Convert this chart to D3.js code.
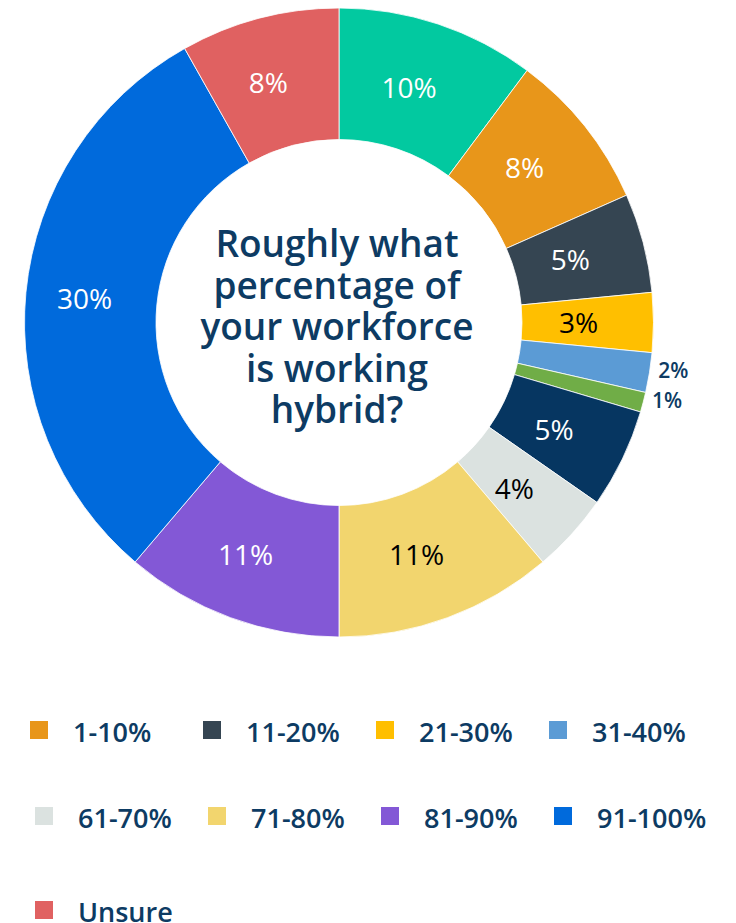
<!DOCTYPE html>
<html>
<head>
<meta charset="utf-8">
<script src="https://cdn.jsdelivr.net/npm/d3@7/dist/d3.min.js"></script>
<style>
  html, body { margin: 0; padding: 0; background: #ffffff; overflow: hidden; }
  svg { display: block; font-family: "Open Sans", "Noto Sans", sans-serif; }
</style>
</head>
<body>
<svg id="chart" width="736" height="923"></svg>
<script>
// Share of respondents by how much of their workforce works hybrid
const categories = ["0%", "1-10%", "11-20%", "21-30%", "31-40%", "41-50%",
                    "51-60%", "61-70%", "71-80%", "81-90%", "91-100%", "Unsure"];
const values = [10, 8, 5, 3, 2, 1, 5, 4, 11, 11, 30, 8];
const palette = ["#02c9a0", "#e8961a", "#354552", "#ffbf00", "#5b9bd5", "#70ad47",
                 "#063661", "#dbe2e0", "#f2d56e", "#8358d6", "#006adc", "#e06161"];
const question = ["Roughly what", "percentage of", "your workforce", "is working", "hybrid?"];

// Legend rows as they appear under the donut
const legendRows = [
  ["1-10%", "11-20%", "21-30%", "31-40%"],
  ["61-70%", "71-80%", "81-90%", "91-100%"],
  ["Unsure"]
];

const navy = "#0d3b63";
const svg = d3.select("#chart");

const cx = 339, cy = 322.5;
const outerR = 314.5, innerR = 183;

const color = d3.scaleOrdinal().domain(categories).range(palette);

const pie = d3.pie().sort(null).value(d => d.value);
const arcs = pie(categories.map((c, i) => ({ cat: c, value: values[i] })));

const arc = d3.arc().innerRadius(innerR).outerRadius(outerR);
const labelArc = d3.arc().innerRadius(outerR - 142).outerRadius(outerR + 8);

const g = svg.append("g").attr("transform", `translate(${cx},${cy})`);

g.selectAll("path.slice")
  .data(arcs)
  .join("path")
  .attr("class", "slice")
  .attr("d", arc)
  .attr("fill", d => color(d.data.cat))
  .attr("stroke", "#ffffff")
  .attr("stroke-width", 0.8);

// Relative luminance decides between white and black text on a slice
function luminance(hex) {
  const c = d3.rgb(hex);
  const f = v => { v /= 255; return v <= 0.03928 ? v / 12.92 : Math.pow((v + 0.055) / 1.055, 2.4); };
  return 0.2126 * f(c.r) + 0.7152 * f(c.g) + 0.0722 * f(c.b);
}

const inside = arcs.filter(d => d.data.value >= 3);
const outside = arcs.filter(d => d.data.value < 3);

g.selectAll("text.inlabel")
  .data(inside)
  .join("text")
  .attr("class", "inlabel")
  .attr("transform", d => `translate(${labelArc.centroid(d)})`)
  .attr("text-anchor", "middle")
  .attr("dx", -8)
  .attr("dy", "0.36em")
  .attr("font-size", 28)
  .attr("font-weight", 500)
  .attr("fill", d => luminance(color(d.data.cat)) > 0.5 ? "#000000" : "#ffffff")
  .text(d => d.data.value + "%");

g.selectAll("text.outlabel")
  .data(outside)
  .join("text")
  .attr("class", "outlabel")
  .attr("x", d => { const a = (d.startAngle + d.endAngle) / 2; return (outerR + 9) * Math.sin(a); })
  .attr("y", d => { const a = (d.startAngle + d.endAngle) / 2; return -(outerR + 9) * Math.cos(a) - 4; })
  .attr("dy", "0.36em")
  .attr("text-anchor", "start")
  .attr("font-size", 21)
  .attr("font-weight", 600)
  .attr("fill", navy)
  .text(d => d.data.value + "%");

// Question in the hole of the donut
const lineH = 41.5;
g.append("text")
  .attr("text-anchor", "middle")
  .attr("font-size", 37)
  .attr("font-weight", 600)
  .attr("fill", navy)
  .selectAll("tspan")
  .data(question)
  .join("tspan")
  .attr("x", -2)
  .attr("y", (d, i) => -65.5 + i * lineH)
  .text(d => d);

// Legend
const rowTops = [721, 807, 901];
const rowStarts = [30, 35, 35];
const colStep = 173;
const legend = svg.append("g");
legendRows.forEach((row, r) => {
  const items = legend.selectAll(null)
    .data(row)
    .join("g")
    .attr("transform", (d, i) => `translate(${rowStarts[r] + i * colStep},${rowTops[r]})`);
  items.append("rect")
    .attr("width", 18).attr("height", 18)
    .attr("fill", d => color(d));
  items.append("text")
    .attr("x", 43).attr("y", 21)
    .attr("font-size", 27)
    .attr("font-weight", 600)
    .attr("fill", navy)
    .text(d => d);
});
</script>
</body>
</html>
